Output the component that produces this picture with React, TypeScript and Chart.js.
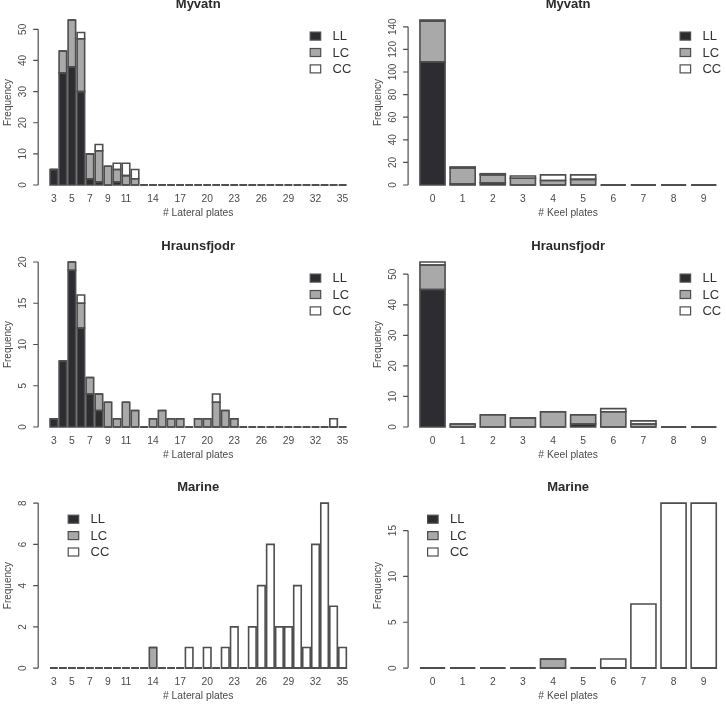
import React, { useEffect, useRef } from "react";
import { Chart, registerables } from "chart.js";

Chart.register(...registerables);

// ---- categories ----
const lateralPlates = [
  "3", "4", "5", "6", "7", "8", "9", "10", "11", "12", "13", "14", "15", "16", "17", "18", "19",
  "20", "21", "22", "23", "24", "25", "26", "27", "28", "29", "30", "31", "32", "33", "34", "35",
];
const lateralTickLabels = ["3", "5", "7", "9", "11", "14", "17", "20", "23", "26", "29", "32", "35"];
const keelPlates = ["0", "1", "2", "3", "4", "5", "6", "7", "8", "9"];
const keelTickLabels = ["0", "1", "2", "3", "4", "5", "6", "7", "8", "9"];

// ---- Myvatn ----
const myvatnLateralLL = [5, 36, 38, 30, 2, 1, 0, 1, 0, 0, 0, 0, 0, 0, 0, 0, 0, 0, 0, 0, 0, 0, 0, 0, 0, 0, 0, 0, 0, 0, 0, 0, 0];
const myvatnLateralLC = [0, 7, 15, 17, 8, 10, 6, 4, 3, 2, 0, 0, 0, 0, 0, 0, 0, 0, 0, 0, 0, 0, 0, 0, 0, 0, 0, 0, 0, 0, 0, 0, 0];
const myvatnLateralCC = [0, 0, 0, 2, 0, 2, 0, 2, 4, 3, 0, 0, 0, 0, 0, 0, 0, 0, 0, 0, 0, 0, 0, 0, 0, 0, 0, 0, 0, 0, 0, 0, 0];
const myvatnLateralTicks = [0, 10, 20, 30, 40, 50];

const myvatnKeelLL = [109, 1, 2, 0, 0, 0, 0, 0, 0, 0];
const myvatnKeelLC = [36, 14, 7, 6, 4, 5, 0, 0, 0, 0];
const myvatnKeelCC = [1, 1, 1, 2, 5, 4, 0, 0, 0, 0];
const myvatnKeelTicks = [0, 20, 40, 60, 80, 100, 120, 140];

// ---- Hraunsfjodr ----
const hraunLateralLL = [1, 8, 19, 12, 4, 2, 0, 0, 0, 0, 0, 0, 0, 0, 0, 0, 0, 0, 0, 0, 0, 0, 0, 0, 0, 0, 0, 0, 0, 0, 0, 0, 0];
const hraunLateralLC = [0, 0, 1, 3, 2, 2, 3, 1, 3, 2, 0, 1, 2, 1, 1, 0, 1, 1, 3, 2, 1, 0, 0, 0, 0, 0, 0, 0, 0, 0, 0, 0, 0];
const hraunLateralCC = [0, 0, 0, 1, 0, 0, 0, 0, 0, 0, 0, 0, 0, 0, 0, 0, 0, 0, 1, 0, 0, 0, 0, 0, 0, 0, 0, 0, 0, 0, 0, 1, 0];
const hraunLateralTicks = [0, 5, 10, 15, 20];

const hraunKeelLL = [45, 0, 0, 0, 0, 1, 0, 0, 0, 0];
const hraunKeelLC = [8, 1, 4, 3, 5, 3, 5, 1, 0, 0];
const hraunKeelCC = [1, 0, 0, 0, 0, 0, 1, 1, 0, 0];
const hraunKeelTicks = [0, 10, 20, 30, 40, 50];

// ---- Marine ----
const marineLateralLL = [0, 0, 0, 0, 0, 0, 0, 0, 0, 0, 0, 0, 0, 0, 0, 0, 0, 0, 0, 0, 0, 0, 0, 0, 0, 0, 0, 0, 0, 0, 0, 0, 0];
const marineLateralLC = [0, 0, 0, 0, 0, 0, 0, 0, 0, 0, 0, 1, 0, 0, 0, 0, 0, 0, 0, 0, 0, 0, 0, 0, 0, 0, 0, 0, 0, 0, 0, 0, 0];
const marineLateralCC = [0, 0, 0, 0, 0, 0, 0, 0, 0, 0, 0, 0, 0, 0, 0, 1, 0, 1, 0, 1, 2, 0, 2, 4, 6, 2, 2, 4, 1, 6, 8, 3, 1];
const marineLateralTicks = [0, 2, 4, 6, 8];

const marineKeelLL = [0, 0, 0, 0, 0, 0, 0, 0, 0, 0];
const marineKeelLC = [0, 0, 0, 0, 1, 0, 0, 0, 0, 0];
const marineKeelCC = [0, 0, 0, 0, 0, 0, 1, 7, 18, 18];
const marineKeelTicks = [0, 5, 10, 15];

const seriesNames = ["LL", "LC", "CC"];
const seriesColors = ["#2d2d31", "#a9a9a9", "#ffffff"];

// ---- page geometry ----
const PAGE_W = 726;
const PAGE_H = 705;
const PLOT_W = 320;
const PLOT_H = 178.2;
const COL_PLOT_LEFT = [38.2, 408.1];
const ROW_PLOT_TOP = [13.4, 255.4, 496.5];
const COL_CANVAS = [
  [0, 363],
  [363, 726],
];
const ROW_CANVAS = [
  [0, 222],
  [222, 463],
  [463, 705],
];

const FONT = '"Liberation Sans", Arial, Helvetica, sans-serif';
const BORDER = "#4e4e4e";
const TEXT = "#4a4a4a";

type PanelSpec = {
  title: string;
  row: number;
  col: number;
  categories: string[];
  tickLabels: string[];
  xTitle: string;
  ll: number[];
  lc: number[];
  cc: number[];
  yTicks: number[];
  legendLeft: number | null; // null => top-right
};

const panels: PanelSpec[] = [
  { title: "Myvatn", row: 0, col: 0, categories: lateralPlates, tickLabels: lateralTickLabels, xTitle: "# Lateral plates",
    ll: myvatnLateralLL, lc: myvatnLateralLC, cc: myvatnLateralCC, yTicks: myvatnLateralTicks, legendLeft: null },
  { title: "Myvatn", row: 0, col: 1, categories: keelPlates, tickLabels: keelTickLabels, xTitle: "# Keel plates",
    ll: myvatnKeelLL, lc: myvatnKeelLC, cc: myvatnKeelCC, yTicks: myvatnKeelTicks, legendLeft: null },
  { title: "Hraunsfjodr", row: 1, col: 0, categories: lateralPlates, tickLabels: lateralTickLabels, xTitle: "# Lateral plates",
    ll: hraunLateralLL, lc: hraunLateralLC, cc: hraunLateralCC, yTicks: hraunLateralTicks, legendLeft: null },
  { title: "Hraunsfjodr", row: 1, col: 1, categories: keelPlates, tickLabels: keelTickLabels, xTitle: "# Keel plates",
    ll: hraunKeelLL, lc: hraunKeelLC, cc: hraunKeelCC, yTicks: hraunKeelTicks, legendLeft: null },
  { title: "Marine", row: 2, col: 0, categories: lateralPlates, tickLabels: lateralTickLabels, xTitle: "# Lateral plates",
    ll: marineLateralLL, lc: marineLateralLC, cc: marineLateralCC, yTicks: marineLateralTicks, legendLeft: 30 },
  { title: "Marine", row: 2, col: 1, categories: keelPlates, tickLabels: keelTickLabels, xTitle: "# Keel plates",
    ll: marineKeelLL, lc: marineKeelLC, cc: marineKeelCC, yTicks: marineKeelTicks, legendLeft: 19.5 },
];

function Panel({ spec }: { spec: PanelSpec }) {
  const ref = useRef<HTMLCanvasElement | null>(null);
  const [cx0, cx1] = COL_CANVAS[spec.col];
  const [cy0, cy1] = ROW_CANVAS[spec.row];

  useEffect(() => {
    const canvas = ref.current;
    if (!canvas) return;

    const n = spec.categories.length;
    // barplot-style user range: bars of width 1 with 0.2 spacing, 4% axis extension
    const units = 1.2 * n - 0.2;
    const ext = 0.04 * units;
    const ppu = PLOT_W / (units + 2 * ext);
    const inset = (ext - 0.1) * ppu;

    const plotLeft = COL_PLOT_LEFT[spec.col] - cx0;
    const plotRight = plotLeft + PLOT_W;
    const plotTop = ROW_PLOT_TOP[spec.row] - cy0;
    const plotBottom = plotTop + PLOT_H;

    const totals = spec.ll.map((v, i) => v + spec.lc[i] + spec.cc[i]);
    const yMax = Math.max(...totals);

    const decor = {
      id: "panelDecor",
      afterDatasetsDraw(chart: any) {
        // outline every stacked segment (zero-height segments become baseline strokes)
        const ctx = chart.ctx;
        ctx.save();
        ctx.strokeStyle = BORDER;
        ctx.lineWidth = 1.6;
        for (let d = 0; d < chart.data.datasets.length; d++) {
          const meta = chart.getDatasetMeta(d);
          for (const el of meta.data as any[]) {
            const l = el.x - el.width / 2;
            const r = el.x + el.width / 2;
            const t = Math.min(el.y, el.base);
            const b = Math.max(el.y, el.base);
            ctx.beginPath();
            ctx.moveTo(l, t);
            ctx.lineTo(r, t);
            ctx.lineTo(r, b);
            ctx.lineTo(l, b);
            ctx.closePath();
            ctx.stroke();
          }
        }
        ctx.restore();
      },
      afterDraw(chart: any) {
        const ctx = chart.ctx;
        const xs = chart.scales.x;
        const ys = chart.scales.y;
        ctx.save();

        // title
        ctx.fillStyle = "#2a2a2a";
        ctx.font = `bold 13px ${FONT}`;
        ctx.textAlign = "center";
        ctx.textBaseline = "alphabetic";
        ctx.fillText(spec.title, (plotLeft + plotRight) / 2, plotTop - 5.5);

        // y axis
        const axisX = plotLeft;
        const yFirst = ys.getPixelForValue(spec.yTicks[0]);
        const yLast = ys.getPixelForValue(spec.yTicks[spec.yTicks.length - 1]);
        ctx.strokeStyle = BORDER;
        ctx.lineWidth = 1.2;
        ctx.beginPath();
        ctx.moveTo(axisX, yFirst);
        ctx.lineTo(axisX, yLast);
        for (const t of spec.yTicks) {
          const py = ys.getPixelForValue(t);
          ctx.moveTo(axisX, py);
          ctx.lineTo(axisX - 5, py);
        }
        ctx.stroke();

        ctx.fillStyle = TEXT;
        ctx.font = `10px ${FONT}`;
        ctx.textAlign = "center";
        ctx.textBaseline = "middle";
        for (const t of spec.yTicks) {
          const py = ys.getPixelForValue(t);
          ctx.save();
          ctx.translate(axisX - 14.5, py);
          ctx.rotate(-Math.PI / 2);
          ctx.fillText(String(t), 0, 0);
          ctx.restore();
        }

        // y title
        ctx.save();
        ctx.translate(plotLeft - 30, (plotTop + plotBottom) / 2);
        ctx.rotate(-Math.PI / 2);
        ctx.fillText("Frequency", 0, 0);
        ctx.restore();

        // x tick labels
        ctx.font = `10.3px ${FONT}`;
        ctx.textBaseline = "alphabetic";
        spec.categories.forEach((c, i) => {
          if (!spec.tickLabels.includes(c)) return;
          ctx.fillText(c, xs.getPixelForValue(i), plotBottom + 10.5);
        });

        // x title
        ctx.fillText(spec.xTitle, (plotLeft + plotRight) / 2, plotBottom + 24.5);

        // legend
        const boxLeft = spec.legendLeft === null ? plotRight - 48 : plotLeft + spec.legendLeft;
        ctx.font = `13px ${FONT}`;
        ctx.textAlign = "left";
        ctx.textBaseline = "middle";
        seriesNames.forEach((name, i) => {
          const cy = plotTop + 22.7 + i * 16.4;
          ctx.fillStyle = seriesColors[i];
          ctx.fillRect(boxLeft, cy - 4, 10.5, 8);
          ctx.strokeStyle = BORDER;
          ctx.lineWidth = 1.2;
          ctx.strokeRect(boxLeft, cy - 4, 10.5, 8);
          ctx.fillStyle = "#333333";
          ctx.fillText(name, boxLeft + 22.3, cy + 0.5);
        });

        ctx.restore();
      },
    };

    const chart = new Chart(canvas, {
      type: "bar",
      data: {
        labels: spec.categories,
        datasets: [spec.ll, spec.lc, spec.cc].map((values, i) => ({
          label: seriesNames[i],
          data: values,
          backgroundColor: seriesColors[i],
          borderWidth: 0,
          barPercentage: 1 / 1.2,
          categoryPercentage: 1,
        })),
      },
      options: {
        animation: false,
        responsive: false,
        maintainAspectRatio: false,
        events: [],
        layout: {
          padding: {
            left: plotLeft + inset,
            right: cx1 - cx0 - (plotRight - inset),
            top: plotTop,
            bottom: cy1 - cy0 - plotBottom,
          },
        },
        plugins: {
          legend: { display: false },
          title: { display: false },
          tooltip: { enabled: false },
        },
        scales: {
          x: { type: "category", stacked: true, display: false, offset: true },
          y: { type: "linear", stacked: true, display: false, min: -0.04 * yMax, max: 1.04 * yMax },
        },
      },
      plugins: [decor],
    });

    return () => chart.destroy();
  }, [spec]);

  return (
    <canvas
      ref={ref}
      width={cx1 - cx0}
      height={cy1 - cy0}
      style={{ position: "absolute", left: cx0, top: cy0, width: cx1 - cx0, height: cy1 - cy0 }}
    />
  );
}

export default function App() {
  return (
    <div
      style={{
        position: "absolute",
        left: 0,
        top: 0,
        width: PAGE_W,
        height: PAGE_H,
        background: "#ffffff",
        overflow: "hidden",
      }}
    >
      {panels.map((p) => (
        <Panel key={`${p.title}-${p.col}`} spec={p} />
      ))}
    </div>
  );
}
